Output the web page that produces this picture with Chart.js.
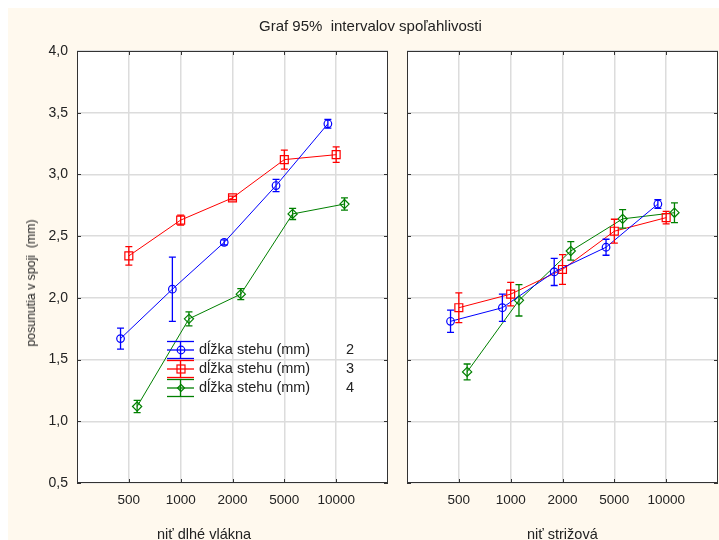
<!DOCTYPE html>
<html>
<head>
<meta charset="utf-8">
<script src="https://cdn.jsdelivr.net/npm/chart.js@4.4.1/dist/chart.umd.min.js"></script>
<style>
  html, body { margin: 0; padding: 0; background: #fff; }
  body { width: 719px; height: 540px; position: relative; overflow: hidden; font-family: 'Liberation Sans', Arial, sans-serif; color: #222; }
  #bg { position: absolute; left: 8px; top: 8px; right: 0; bottom: 0; background: #fff9ee; }
  .txt { position: absolute; white-space: nowrap; line-height: 16px; }
  #title { left: 259px; top: 18px; font-size: 15px; }
  #ytitle { left: 31px; top: 283px; font-size: 12.3px; transform: translate(-50%, -50%) rotate(-90deg); }
  #xtitle-left { left: 157px; top: 526px; font-size: 14.5px; }
  #xtitle-right { left: 527px; top: 526px; font-size: 14.5px; }
  .wrap { position: absolute; top: 0; }
  #legend { position: absolute; left: 167px; top: 340px; font-size: 14.5px; }
  .legend-row { position: relative; height: 19.2px; }
  .legend-row svg { position: absolute; left: 0; top: 0; }
  .legend-row span { position: absolute; top: 1px; white-space: nowrap; line-height: 16px; }
  .legend-row .name { left: 32px; }
  .legend-row .val { left: 179px; }
</style>
</head>
<body>
<div id="bg"></div>
<div class="wrap" style="left:0; width:390px; height:540px;"><canvas id="leftChart" width="390" height="540"></canvas></div>
<div class="wrap" style="left:395px; width:324px; height:540px;"><canvas id="rightChart" width="324" height="540"></canvas></div>
<div class="txt" id="title">Graf 95%&nbsp; intervalov spoľahlivosti</div>
<div class="txt" id="ytitle">posunutia v spoji&nbsp; (mm)</div>
<div class="txt" id="xtitle-left">niť dlhé vlákna</div>
<div class="txt" id="xtitle-right">niť strižová</div>
<div id="legend"></div>
<script>
// thread length categories (x axis)
const categories = ['500', '1000', '2000', '5000', '10000'];
const stitchLengths = ['2', '3', '4'];

// niť dlhé vlákna: means and 95% half-widths, per stitch length
const longFiber2 = [1.67, 2.07, 2.45, 2.91, 3.41];
const longFiber2Err = [0.085, 0.26, 0.02, 0.05, 0.035];
const longFiber3 = [2.34, 2.63, 2.81, 3.12, 3.16];
const longFiber3Err = [0.075, 0.04, 0.015, 0.077, 0.063];
const longFiber4 = [1.12, 1.83, 2.03, 2.68, 2.76];
const longFiber4Err = [0.05, 0.057, 0.045, 0.045, 0.05];

// niť strižová
const staple2 = [1.81, 1.92, 2.21, 2.41, 2.76];
const staple2Err = [0.09, 0.11, 0.11, 0.065, 0.035];
const staple3 = [1.92, 2.03, 2.23, 2.54, 2.65];
const staple3Err = [0.12, 0.095, 0.12, 0.097, 0.05];
const staple4 = [1.40, 1.98, 2.38, 2.64, 2.69];
const staple4Err = [0.064, 0.127, 0.075, 0.075, 0.08];

const seriesStyle = [
  { color: '#0000ff', pointStyle: 'circle', radius: 3.8, shift: -0.16 },
  { color: '#ff0000', pointStyle: 'rect', radius: 5.6, shift: 0 },
  { color: '#008000', pointStyle: 'rectRot', radius: 4.6, shift: 0.16 },
];

const frame = {
  id: 'frame',
  beforeDraw(chart) {
    const { ctx, chartArea: a } = chart;
    ctx.save();
    ctx.fillStyle = '#ffffff';
    ctx.fillRect(a.left, a.top, a.right - a.left, a.bottom - a.top);
    ctx.restore();
  },
  afterDraw(chart) {
    const { ctx, chartArea: a, scales } = chart;
    ctx.save();
    ctx.strokeStyle = '#333';
    ctx.lineWidth = 1;
    ctx.strokeRect(a.left + 0.5, a.top + 0.5, a.right - a.left - 1, a.bottom - a.top - 1);
    ctx.beginPath();
    scales.y.ticks.forEach(t => {
      const y = Math.round(scales.y.getPixelForValue(t.value)) + 0.5;
      ctx.moveTo(a.left, y); ctx.lineTo(a.left + 4, y);
      ctx.moveTo(a.right, y); ctx.lineTo(a.right - 4, y);
    });
    scales.x.ticks.forEach(t => {
      const x = Math.round(scales.x.getPixelForValue(t.value)) + 0.5;
      ctx.moveTo(x, a.top); ctx.lineTo(x, a.top + 4);
      ctx.moveTo(x, a.bottom); ctx.lineTo(x, a.bottom - 4);
    });
    ctx.stroke();
    ctx.restore();
  },
};

const errorBars = {
  id: 'errorBars',
  afterDatasetsDraw(chart) {
    const { ctx } = chart;
    const yScale = chart.scales.y;
    chart.data.datasets.forEach((ds, i) => {
      const meta = chart.getDatasetMeta(i);
      ctx.save();
      ctx.strokeStyle = ds.borderColor;
      ctx.lineWidth = 1.3;
      ctx.beginPath();
      meta.data.forEach((pt, j) => {
        const top = yScale.getPixelForValue(ds.data[j].y + ds.errors[j]);
        const bot = yScale.getPixelForValue(ds.data[j].y - ds.errors[j]);
        ctx.moveTo(pt.x, top); ctx.lineTo(pt.x, bot);
        ctx.moveTo(pt.x - 3.5, top); ctx.lineTo(pt.x + 3.5, top);
        ctx.moveTo(pt.x - 3.5, bot); ctx.lineTo(pt.x + 3.5, bot);
      });
      ctx.stroke();
      ctx.restore();
    });
  },
};

function buildDatasets(means, errs) {
  return means.map((values, s) => ({
    label: 'dĺžka stehu (mm) ' + stitchLengths[s],
    data: values.map((v, i) => ({ x: i + 1 + seriesStyle[s].shift, y: v })),
    errors: errs[s],
    borderColor: seriesStyle[s].color,
    backgroundColor: 'rgba(0,0,0,0)',
    borderWidth: 1,
    pointStyle: seriesStyle[s].pointStyle,
    pointRadius: seriesStyle[s].radius,
    pointBorderWidth: 1.2,
    pointBorderColor: seriesStyle[s].color,
    pointBackgroundColor: 'rgba(0,0,0,0)',
    showLine: true,
    tension: 0,
  }));
}

function makeChart(id, means, errs, showYTicks, yWidth, padRight) {
  return new Chart(document.getElementById(id), {
    type: 'scatter',
    data: { datasets: buildDatasets(means, errs) },
    options: {
      responsive: false,
      animation: false,
      devicePixelRatio: 1,
      layout: { autoPadding: false, padding: { top: 51, right: padRight, bottom: 0, left: 0 } },
      plugins: { legend: { display: false }, tooltip: { enabled: false } },
      scales: {
        x: {
          type: 'linear',
          min: 0,
          max: 6,
          afterBuildTicks: scale => { scale.ticks = categories.map((_, i) => ({ value: i + 1 })); },
          afterFit: scale => {
            scale.height = 57;
            scale.paddingLeft = 0;
            scale.paddingRight = 0;
          },
          grid: { color: '#dcdcdc', lineWidth: 1.5, drawTicks: false },
          border: { display: false },
          ticks: {
            padding: 9,
            color: '#222',
            font: { family: "'Liberation Sans', Arial, sans-serif", size: 13.5 },
            callback: value => categories[value - 1] || '',
          },
        },
        y: {
          min: 0.5,
          max: 4.0,
          afterFit: scale => {
            scale.width = yWidth;
            scale.paddingTop = 0;
            scale.paddingBottom = 0;
          },
          grid: { color: '#dcdcdc', lineWidth: 1.5, drawTicks: false },
          border: { display: false },
          ticks: {
            display: showYTicks,
            stepSize: 0.5,
            padding: 9,
            color: '#222',
            font: { family: "'Liberation Sans', Arial, sans-serif", size: 14 },
            callback: value => value.toFixed(1).replace('.', ','),
          },
        },
      },
    },
    plugins: [frame, errorBars],
  });
}

makeChart('leftChart', [longFiber2, longFiber3, longFiber4], [longFiber2Err, longFiber3Err, longFiber4Err], true, 77, 2);
makeChart('rightChart', [staple2, staple3, staple4], [staple2Err, staple3Err, staple4Err], false, 12, 1);

// legend drawn inside the left panel
const legend = document.getElementById('legend');
stitchLengths.forEach((len, s) => {
  const st = seriesStyle[s];
  let marker = '';
  if (st.pointStyle === 'circle') marker = '<circle cx="14" cy="10" r="3.8" fill="none" stroke="' + st.color + '" stroke-width="1.2"/>';
  if (st.pointStyle === 'rect') marker = '<rect x="10" y="6" width="8" height="8" fill="none" stroke="' + st.color + '" stroke-width="1.2"/>';
  if (st.pointStyle === 'rectRot') marker = '<path d="M14 6.5 L17.5 10 L14 13.5 L10.5 10 Z" fill="none" stroke="' + st.color + '" stroke-width="1.2"/>';
  const row = document.createElement('div');
  row.className = 'legend-row';
  row.innerHTML =
    '<svg width="28" height="20" viewBox="0 0 28 20">' +
    '<g stroke="' + st.color + '" stroke-width="1.3">' +
    '<line x1="0" y1="1.5" x2="27" y2="1.5"/><line x1="0" y1="10" x2="27" y2="10"/>' +
    '<line x1="0" y1="18.5" x2="27" y2="18.5"/><line x1="13.5" y1="1.5" x2="13.5" y2="18.5"/></g>' +
    marker + '</svg>' +
    '<span class="name">dĺžka stehu (mm)</span><span class="val">' + len + '</span>';
  legend.appendChild(row);
});
</script>
</body>
</html>
